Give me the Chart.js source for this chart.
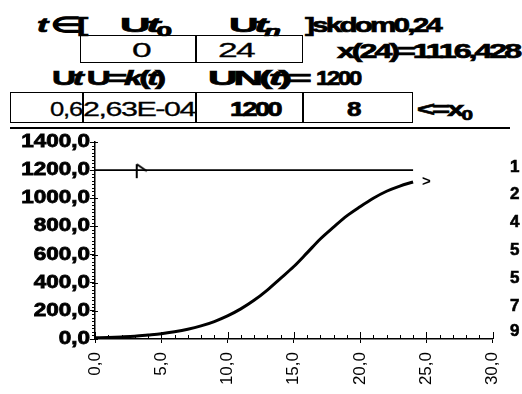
<!DOCTYPE html>
<html>
<head>
<meta charset="utf-8">
<script src="https://cdn.jsdelivr.net/npm/chart.js@4"></script>
<style>
body { margin:0; width:522px; height:394px; overflow:hidden; position:relative; background:#fff; color:#000;
       font-family:"Liberation Sans", Arial, sans-serif; }
.t { position:absolute; font-weight:bold; font-size:21px; line-height:1; white-space:nowrap; transform-origin:0 0;
     letter-spacing:-2px; -webkit-text-stroke:0.7px #000; }
.t sub { font-size:14px; vertical-align:-4px; }
.n { font-weight:normal; letter-spacing:-1px; -webkit-text-stroke:0.3px #000; }
.box { position:absolute; border:1.5px solid #000; box-sizing:border-box; }
.vl { position:absolute; width:1.5px; background:#000; }
#frame { position:absolute; left:10px; top:127px; width:500px; height:2px; background:#000; }
#chartBox { position:absolute; left:0; top:128px; width:522px; height:266px; }
.side { position:absolute; left:510px; font-weight:bold; font-size:17px; line-height:1; -webkit-text-stroke:0.6px #000; }
</style>
</head>
<body>
<!-- header rows (spreadsheet cells above the chart) -->
<div class="t" data-w="48" style="left:37px;top:14px"><i>t</i> ∈[</div>
<div class="t" data-w="48" style="left:120px;top:14px">U<i>t</i><sub>0</sub></div>
<div class="t" data-w="48" style="left:229px;top:14px">U<i>t</i><sub><i>n</i></sub></div>
<div class="t" data-w="135" style="left:305px;top:14px">]skdom0,24</div>

<div class="box" style="left:80px;top:35px;width:223px;height:28px"></div>
<div class="vl" style="left:195px;top:35px;height:28px"></div>
<div class="t n" data-w="18" style="left:132px;top:39px">0</div>
<div class="t n" data-w="36" style="left:218px;top:39px">24</div>
<div class="t" data-w="182" style="left:337px;top:40px">x(24)=1116,428</div>

<div class="t" data-w="111" style="left:52px;top:67px">U<i>t</i> U=<i>k</i>(<i>t</i>)</div>
<div class="t" data-w="100" style="left:208px;top:67px">UN(<i>t</i>)=</div>
<div class="t" data-w="44" style="left:316px;top:67px">1200</div>

<div class="box" style="left:10px;top:92px;width:403px;height:31px"></div>
<div class="vl" style="left:82px;top:92px;height:31px"></div>
<div class="vl" style="left:195px;top:92px;height:31px"></div>
<div class="vl" style="left:302px;top:92px;height:31px"></div>
<div class="t n" data-w="32" style="left:50px;top:98px">0,6</div>
<div class="t n" data-w="112" style="left:83px;top:98px">2,63E-04</div>
<div class="t" data-w="50" style="left:230px;top:98px">1200</div>
<div class="t" data-w="12" style="left:347px;top:98px">8</div>
<div class="t" data-w="53" style="left:417px;top:98px">&lt;=x<sub>0</sub></div>

<div id="frame"></div>
<div id="chartBox"><canvas id="logChart" width="522" height="266"></canvas></div>

<div class="side" style="top:158px">1</div>
<div class="side" style="top:185px">2</div>
<div class="side" style="top:213px">4</div>
<div class="side" style="top:241px">5</div>
<div class="side" style="top:269px">5</div>
<div class="side" style="top:297px">7</div>
<div class="side" style="top:322px">9</div>

<script>
// values
const tValues = [0, 1, 2, 3, 4, 5, 6, 7, 8, 9, 10, 11, 12, 13, 14, 15, 16, 17, 18, 19, 20, 21, 22, 23, 24];
const xValues = [8, 11, 15, 20, 28, 37, 51, 69, 93, 124, 164, 214, 275, 348, 431, 515, 612, 711, 795, 875, 940, 1000, 1050, 1087, 1116];
const capT = [0, 3.15, 24];
const capValues = [1200, 1200, 1200];
const xTicks = [0, 5, 10, 15, 20, 25, 30];
const yTicks = [0, 200, 400, 600, 800, 1000, 1200, 1400];
const endLabel = { t: 25.0, value: 1114, text: '>' };

// squash / stretch header texts to their width in the picture
document.querySelectorAll('.t[data-w]').forEach(function(el) {
    const w = el.getBoundingClientRect().width;
    el.style.transform = 'scaleX(' + (parseFloat(el.dataset.w) / w).toFixed(3) + ')';
});

function fmt(v) {
    return v.toFixed(1).replace('.', ',');
}

// little flag marker sitting on the 1200 line
function makeFlag() {
    const c = document.createElement('canvas');
    c.width = 24; c.height = 20;
    const g = c.getContext('2d');
    g.strokeStyle = '#000';
    g.lineWidth = 2;
    g.beginPath();
    g.moveTo(12, 4); g.lineTo(12, 18);
    g.moveTo(12, 4); g.lineTo(22, 11);
    g.stroke();
    return c;
}
const flag = makeFlag();

// minor ticks, crossing major ticks, y labels and the end label
const axisExtras = {
    id: 'axisExtras',
    afterDraw(chart) {
        const ctx = chart.ctx;
        const xs = chart.scales.x, ys = chart.scales.y;
        const y0 = ys.getPixelForValue(0);
        const x0 = xs.getPixelForValue(0);
        ctx.save();
        ctx.strokeStyle = '#000';
        ctx.lineWidth = 1;
        ctx.beginPath();
        for (let t = 0; t <= 30; t++) {
            const px = Math.round(xs.getPixelForValue(t)) + 0.5;
            ctx.moveTo(px, y0);
            ctx.lineTo(px, y0 - (t % 5 === 0 ? 7 : 4));
        }
        for (let v = 0; v <= 1400; v += 25) {
            const py = Math.round(ys.getPixelForValue(v)) + 0.5;
            ctx.moveTo(x0, py);
            ctx.lineTo(x0 - 3, py);
            if (v % 200 === 0) { ctx.moveTo(x0, py); ctx.lineTo(x0 + 3, py); }
        }
        ctx.stroke();

        ctx.fillStyle = '#000';
        ctx.font = 'bold 18px "Liberation Sans"';
        ctx.textAlign = 'right';
        ctx.textBaseline = 'middle';
        ctx.lineWidth = 0.8;
        ys.ticks.forEach(function(tk, i) {
            ctx.save();
            ctx.translate(x0 - 5, ys.getPixelForTick(i));
            ctx.scale(1.25, 1);
            ctx.fillText(fmt(tk.value), 0, 0);
            ctx.strokeText(fmt(tk.value), 0, 0);
            ctx.restore();
        });

        ctx.font = 'bold 15px "Liberation Sans"';
        ctx.textAlign = 'center';
        ctx.fillText(endLabel.text, xs.getPixelForValue(endLabel.t), ys.getPixelForValue(endLabel.value));
        ctx.restore();
    }
};

function initLogChart() {
    const ctx = document.getElementById('logChart').getContext('2d');
    new Chart(ctx, {
        type: 'line',
        data: {
            datasets: [
                {
                    label: 'x(t)',
                    data: tValues.map((t, i) => ({ x: t, y: xValues[i] })),
                    borderColor: '#000',
                    borderWidth: 3,
                    pointRadius: 0,
                    cubicInterpolationMode: 'monotone',
                    fill: false
                },
                {
                    label: 'N',
                    data: capT.map((t, i) => ({ x: t, y: capValues[i] })),
                    borderColor: '#000',
                    borderWidth: 1.8,
                    pointRadius: [0, 10, 0],
                    pointStyle: [false, flag, false],
                    fill: false
                }
            ]
        },
        options: {
            responsive: false,
            animation: false,
            layout: { padding: { left: 0, top: 14, right: 27, bottom: 0 } },
            plugins: {
                legend: { display: false },
                tooltip: { enabled: false }
            },
            scales: {
                x: {
                    type: 'linear',
                    min: 0,
                    max: 30,
                    afterBuildTicks: function(scale) {
                        scale.ticks = xTicks.map(v => ({ value: v }));
                    },
                    afterFit: function(scale) { scale.height = 55; },
                    grid: { drawOnChartArea: false, color: '#000', tickLength: 4, lineWidth: 1 },
                    border: { color: '#000', width: 1.5 },
                    ticks: {
                        color: '#000',
                        font: { family: 'Liberation Sans', size: 17 },
                        minRotation: 90,
                        maxRotation: 90,
                        padding: 9,
                        callback: function(value) { return fmt(value); }
                    }
                },
                y: {
                    min: 0,
                    max: 1400,
                    afterBuildTicks: function(scale) {
                        scale.ticks = yTicks.map(v => ({ value: v }));
                    },
                    afterFit: function(scale) { scale.width = 95; },
                    grid: { drawOnChartArea: false, color: '#000', tickLength: 5, lineWidth: 1 },
                    border: { color: '#000', width: 1.5 },
                    ticks: { display: false }
                }
            }
        },
        plugins: [axisExtras]
    });
}

document.addEventListener('DOMContentLoaded', initLogChart);
</script>
</body>
</html>
